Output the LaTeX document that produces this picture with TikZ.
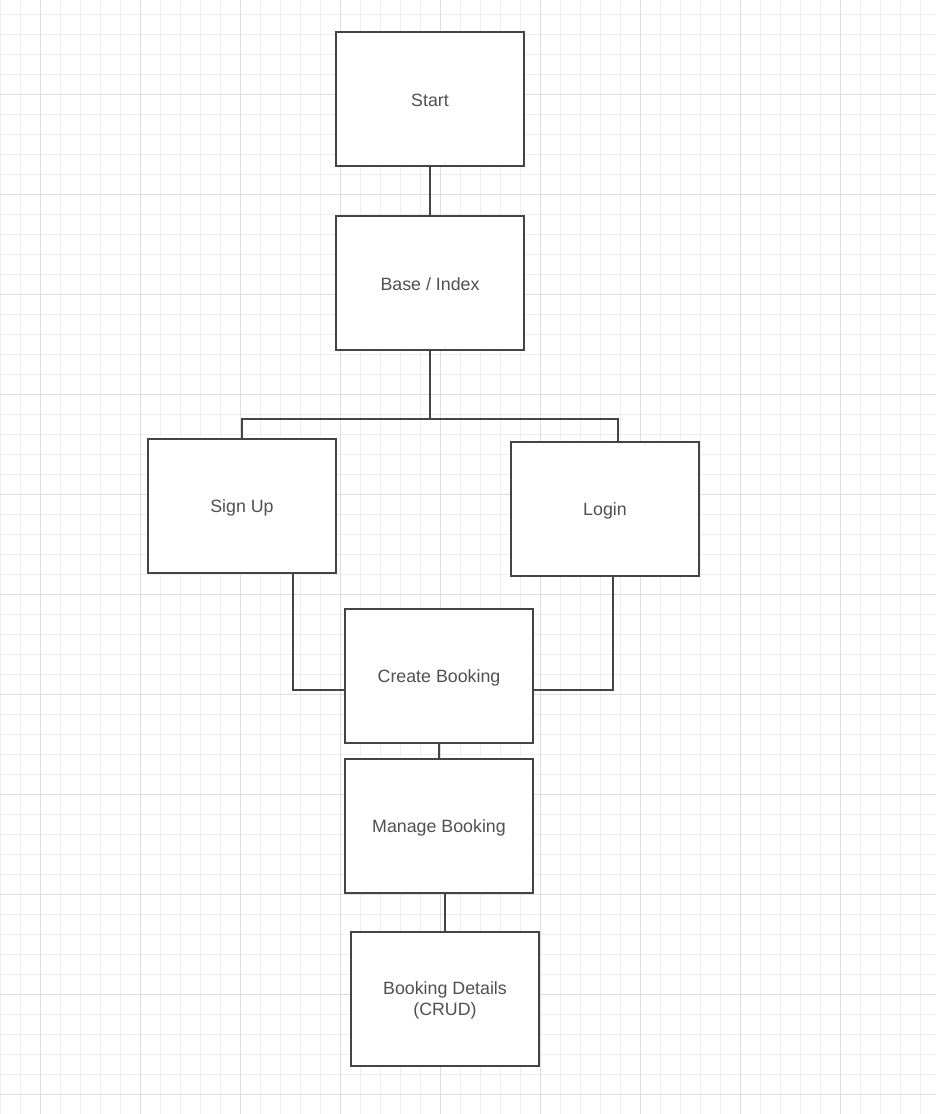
\documentclass[tikz,border=0pt]{standalone}
\usepackage{fontspec}
\setmainfont{Liberation Sans}
\definecolor{gridminor}{HTML}{EEEEEE}
\definecolor{gridmajor}{HTML}{DEDEDE}
\definecolor{edge}{HTML}{444444}
\definecolor{txt}{HTML}{505050}
\tikzset{
  box/.style={draw=edge, line width=1.1pt, fill=white, minimum width=188pt, minimum height=134pt, inner sep=0pt, align=center, text=txt, font=\fontsize{17.8}{21.7}\selectfont},
  lbl/.style={text=txt, font=\fontsize{17.8}{21.7}\selectfont, align=center, inner sep=0pt},
  conn/.style={draw=edge, line width=1.1pt}
}
\begin{document}
\begin{tikzpicture}[x=1pt,y=-1pt]
\useasboundingbox (0,0) rectangle (936,1114);
\fill[white] (0,0) rectangle (936,1114);
\foreach \k in {0,...,46} {\draw[gridminor, line width=1pt] (0.7+20*\k,0) -- (0.7+20*\k,1114);}
\foreach \k in {0,...,55} {\draw[gridminor, line width=1pt] (0,14.3+20*\k) -- (936,14.3+20*\k);}
\foreach \k in {0,...,8} {\draw[gridmajor, line width=1pt] (40.7+100*\k,0) -- (40.7+100*\k,1114);}
\foreach \k in {0,...,10} {\draw[gridmajor, line width=1pt] (0,94.3+100*\k) -- (936,94.3+100*\k);}

\node[box] (start) at (430,99) {};
\node[box] (base) at (430,283) {};
\node[box] (signup) at (242,506) {};
\node[box] (login) at (605,509) {};
\node[box] (create) at (439,676) {};
\node[box] (manage) at (439,826) {};
\node[box] (details) at (445,999) {};
\node[lbl] (startl) at ([yshift=-1.5pt]start.center) {Start};
\node[lbl] (basel) at ([yshift=-1.5pt]base.center) {Base / Index};
\node[lbl] (signupl) at ([yshift=-1.5pt]signup.center) {Sign Up};
\node[lbl] (loginl) at ([yshift=-1.5pt]login.center) {Login};
\node[lbl] (createl) at ([yshift=-1.5pt]create.center) {Create Booking};
\node[lbl] (managel) at ([yshift=-1.5pt]manage.center) {Manage Booking};
\node[lbl] (detailsl) at ([yshift=-1.5pt]details.center) {Booking Details\\(CRUD)};
\coordinate (j) at (430,419);

\draw[conn] (start.south) -- (base.north);
\draw[conn] (base.south) -- (j);
\draw[conn] (signup.north) |- (j) -| ([xshift=13pt]login.north);
\draw[conn] ([xshift=51pt]signup.south) |- ([yshift=-14pt]create.west);
\draw[conn] ([xshift=8pt]login.south) |- ([yshift=-14pt]create.east);
\draw[conn] (create.south) -- (manage.north);
\draw[conn] (details.north) -- (details.north |- manage.south);
\end{tikzpicture}
\end{document}
